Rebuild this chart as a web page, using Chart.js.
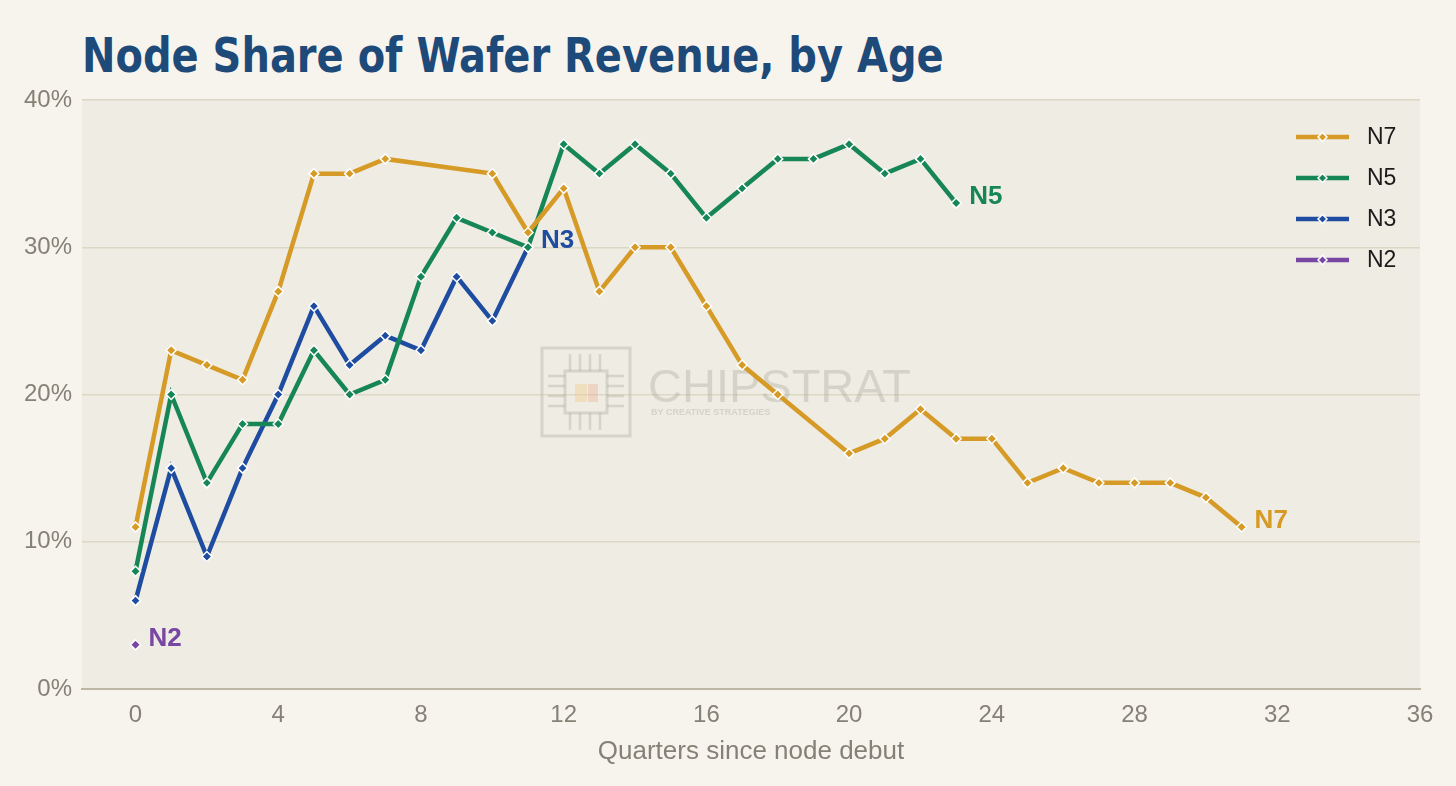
<!DOCTYPE html>
<html>
<head>
<meta charset="utf-8">
<script src="https://cdn.jsdelivr.net/npm/chart.js@4.4.1/dist/chart.umd.min.js"></script>
<style>
  html, body { margin: 0; padding: 0; background: #f7f4ed; }
  #wrap { position: relative; width: 1456px; height: 786px; }
  h1 {
    position: absolute; left: 82px; top: 31px; margin: 0;
    font-family: "Liberation Sans Narrow", "DejaVu Sans Condensed", "Liberation Sans", sans-serif;
    font-stretch: condensed; font-weight: bold; font-size: 48px; line-height: 48px;
    color: #1d4a79; white-space: nowrap;
    transform: scaleX(0.926); transform-origin: left center;
  }
  canvas { position: absolute; left: 0; top: 0; }
</style>
</head>
<body>
<div id="wrap">
  <h1>Node Share of Wafer Revenue, by Age</h1>
  <canvas id="chart" width="1456" height="786"></canvas>
</div>
<script>
// quarters since debut and share (%) per node
const n7X = [0, 1, 2, 3, 4, 5, 6, 7, 10, 11, 12, 13, 14, 15, 16, 17, 18, 20, 21, 22, 23, 24, 25, 26, 27, 28, 29, 30, 31];
const n7Y = [11, 23, 22, 21, 27, 35, 35, 36, 35, 31, 34, 27, 30, 30, 26, 22, 20, 16, 17, 19, 17, 17, 14, 15, 14, 14, 14, 13, 11];
const n5X = [0, 1, 2, 3, 4, 5, 6, 7, 8, 9, 10, 11, 12, 13, 14, 15, 16, 17, 18, 19, 20, 21, 22, 23];
const n5Y = [8, 20, 14, 18, 18, 23, 20, 21, 28, 32, 31, 30, 37, 35, 37, 35, 32, 34, 36, 36, 37, 35, 36, 33];
const n3X = [0, 1, 2, 3, 4, 5, 6, 7, 8, 9, 10, 11];
const n3Y = [6, 15, 9, 15, 20, 26, 22, 24, 23, 28, 25, 30];
const n2X = [0];
const n2Y = [3];

const xTicks = [0, 4, 8, 12, 16, 20, 24, 28, 32, 36];
const nodeNames = ['N7', 'N5', 'N3', 'N2'];
const nodeColors = ['#d69a26', '#178657', '#1d4ca1', '#7747a3'];

function pts(xs, ys) {
    return xs.map((x, i) => ({ x: x, y: ys[i] }));
}
const series = [pts(n7X, n7Y), pts(n5X, n5Y), pts(n3X, n3Y), pts(n2X, n2Y)];

const tickFont = { family: '"Liberation Sans", Arial, sans-serif', size: 24 };
const tickColor = '#858176';

// chart area fill
const areaBg = {
    id: 'areaBg',
    beforeDraw(chart) {
        const { ctx, chartArea: a } = chart;
        ctx.save();
        ctx.fillStyle = '#efece3';
        ctx.fillRect(a.left, a.top, a.right - a.left, a.bottom - a.top);
        ctx.restore();
    }
};

// faint CHIPSTRAT watermark
const watermark = {
    id: 'watermark',
    beforeDatasetsDraw(chart) {
        const ctx = chart.ctx;
        const x0 = 540, y0 = 346;
        ctx.save();
        ctx.strokeStyle = 'rgba(170,165,152,0.35)';
        ctx.lineWidth = 3;
        ctx.strokeRect(x0 + 2, y0 + 2, 88, 88);
        ctx.strokeRect(x0 + 25, y0 + 25, 42, 42);
        ctx.lineWidth = 2.5;
        for (let i = 0; i < 4; i++) {
            const o = 30 + i * 10;
            ctx.beginPath(); ctx.moveTo(x0 + o, y0 + 8); ctx.lineTo(x0 + o, y0 + 25); ctx.stroke();
            ctx.beginPath(); ctx.moveTo(x0 + o, y0 + 67); ctx.lineTo(x0 + o, y0 + 84); ctx.stroke();
            ctx.beginPath(); ctx.moveTo(x0 + 8, y0 + o); ctx.lineTo(x0 + 25, y0 + o); ctx.stroke();
            ctx.beginPath(); ctx.moveTo(x0 + 67, y0 + o); ctx.lineTo(x0 + 84, y0 + o); ctx.stroke();
        }
        ctx.fillStyle = 'rgba(240,200,120,0.35)';
        ctx.fillRect(x0 + 35, y0 + 38, 12, 18);
        ctx.fillStyle = 'rgba(235,170,140,0.35)';
        ctx.fillRect(x0 + 48, y0 + 38, 10, 18);
        ctx.fillStyle = 'rgba(165,160,148,0.34)';
        ctx.font = '47px "Liberation Sans", Arial, sans-serif';
        ctx.textBaseline = 'alphabetic';
        ctx.fillText('CHIPSTRAT', 648, 402);
        ctx.font = 'bold 9px "Liberation Sans", Arial, sans-serif';
        ctx.fillText('BY CREATIVE STRATEGIES', 651, 415);
        ctx.restore();
    }
};

function diamond(ctx, x, y, r, color) {
    ctx.beginPath();
    ctx.moveTo(x, y - r); ctx.lineTo(x + r, y); ctx.lineTo(x, y + r); ctx.lineTo(x - r, y);
    ctx.closePath();
    ctx.fillStyle = color; ctx.fill();
    ctx.lineWidth = 1.5; ctx.strokeStyle = '#fff'; ctx.stroke();
}

// end-of-line labels + legend in the top right of the plot
const labelsAndLegend = {
    id: 'labelsAndLegend',
    afterDatasetsDraw(chart) {
        const { ctx, chartArea: a } = chart;
        ctx.save();
        ctx.font = 'bold 26px "Liberation Sans", Arial, sans-serif';
        ctx.textBaseline = 'middle';
        chart.data.datasets.forEach((ds, i) => {
            const meta = chart.getDatasetMeta(i);
            const last = meta.data[meta.data.length - 1];
            ctx.fillStyle = ds.borderColor;
            ctx.fillText(ds.label, last.x + 13, last.y - 6);
        });
        ctx.font = '23px "Liberation Sans", Arial, sans-serif';
        chart.data.datasets.forEach((ds, i) => {
            const y = a.top + 37 + i * 41;
            const x1 = a.right - 124, x2 = a.right - 71;
            ctx.beginPath();
            ctx.moveTo(x1, y); ctx.lineTo(x2, y);
            ctx.lineWidth = 4.5; ctx.strokeStyle = ds.borderColor; ctx.stroke();
            diamond(ctx, (x1 + x2) / 2, y, 4.5, ds.borderColor);
            ctx.fillStyle = '#1b1b1b';
            ctx.fillText(ds.label, a.right - 53, y + 1);
        });
        ctx.restore();
    }
};

new Chart(document.getElementById('chart'), {
    type: 'line',
    data: {
        datasets: series.map((d, i) => ({
            label: nodeNames[i],
            data: d,
            borderColor: nodeColors[i],
            backgroundColor: nodeColors[i],
            borderWidth: 4.5,
            tension: 0,
            pointStyle: 'rectRot',
            pointRadius: 5,
            pointBackgroundColor: nodeColors[i],
            pointBorderColor: '#ffffff',
            pointBorderWidth: 1.5
        }))
    },
    options: {
        responsive: false,
        animation: false,
        layout: { padding: { top: 100, right: 36, left: 0, bottom: 0 } },
        plugins: {
            legend: { display: false },
            tooltip: { enabled: false }
        },
        scales: {
            x: {
                type: 'linear',
                min: -1.5,
                max: 36,
                afterBuildTicks(scale) {
                    scale.ticks = xTicks.map(v => ({ value: v }));
                },
                afterFit(scale) { scale.height = 97; },
                grid: { display: false, drawTicks: false },
                border: { display: true, color: '#bcb7a5', width: 2 },
                ticks: { font: tickFont, color: tickColor, padding: 12, maxRotation: 0 },
                title: {
                    display: true,
                    text: 'Quarters since node debut',
                    font: { family: '"Liberation Sans", Arial, sans-serif', size: 26 },
                    color: tickColor,
                    padding: { top: 4, bottom: 19 }
                }
            },
            y: {
                min: 0,
                max: 40,
                afterFit(scale) { scale.width = 82; },
                grid: { color: '#dcd8c6', lineWidth: 1.5, drawTicks: false },
                border: { display: false },
                ticks: {
                    stepSize: 10,
                    font: tickFont,
                    color: tickColor,
                    padding: 10,
                    callback: v => v + '%'
                }
            }
        }
    },
    plugins: [areaBg, watermark, labelsAndLegend]
});
</script>
</body>
</html>
